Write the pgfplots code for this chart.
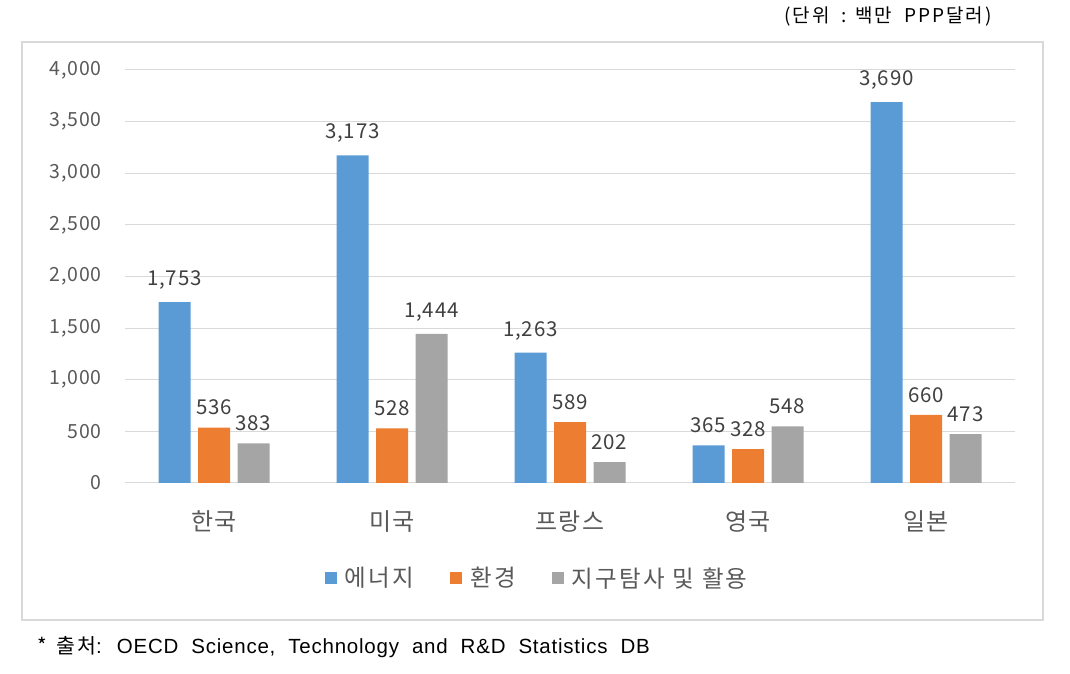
\documentclass[border=0pt]{standalone}
\usepackage{fontspec}
\setmainfont{Noto Sans CJK KR}
\newfontfamily\latinfont[LetterSpace=3.8,WordSpace=2]{Liberation Sans}
\newfontfamily\krsp[LetterSpace=10]{Noto Sans CJK KR}
\newfontfamily\krnum[LetterSpace=4]{Noto Sans CJK KR}
\newfontfamily\krcat[LetterSpace=5]{Noto Sans CJK KR}
\usepackage{pgfplots}
\pgfplotsset{compat=1.18}
\definecolor{cblue}{HTML}{5B9BD5}
\definecolor{corange}{HTML}{ED7D31}
\definecolor{cgray}{HTML}{A5A5A5}
\definecolor{gridc}{HTML}{D9D9D9}
\definecolor{txt}{HTML}{595959}
\definecolor{lbl}{HTML}{404040}
\begin{document}
\begin{tikzpicture}[x=1pt,y=1pt]
\path[use as bounding box] (0,0) rectangle (1070,674);
\draw[gridc,line width=1.5pt] (22,54) rectangle (1043,632);
\node[anchor=east,font=\krsp\fontsize{19}{22}\selectfont] at (995,657) {(단위 \ : 백만 \ PPP달러)};
\node[anchor=west,font=\fontsize{20.5}{24}\selectfont] at (34,27) {* \ {\krsp 출처}{\latinfont: OECD Science, Technology and R\&D Statistics DB}};
\begin{axis}[
  at={(125pt,191pt)}, anchor=south west,
  scale only axis, width=890pt, height=413pt,
  xmin=-0.5, xmax=4.5, ymin=0, ymax=4000,
  ybar=7.5pt, bar width=32pt,
  axis line style={draw=none},
  major tick length=0pt,
  ytick={0,500,...,4000},
  ymajorgrids, grid style={gridc, line width=1pt},
  xtick=data,
  xticklabels={한국,미국,프랑스,영국,일본},
  xticklabel style={font=\krcat\fontsize{24}{28}\selectfont, text=txt, yshift=-24pt},
  yticklabel style={font=\krnum\fontsize{19.5}{22}\selectfont, text=txt, xshift=-20pt},
  /pgf/number format/.cd, 1000 sep={,}, assume math mode=true,
  /pgfplots/.cd,
  nodes near coords,
  every node near coord/.append style={font=\krnum\fontsize{20.5}{24}\selectfont, text=lbl, yshift=9pt},
  legend style={at={(0.463,-0.23)}, anchor=center, draw=none, fill=none,
    font=\krsp\fontsize{23.5}{27}\selectfont, text=txt, legend columns=-1,
    /tikz/every odd column/.append style={column sep=6pt},
    /tikz/every even column/.append style={column sep=34pt}},
  legend image code/.code={\fill[#1] (0pt,-6pt) rectangle (12pt,6pt);},
]
\addplot[fill=cblue, draw=none] coordinates {(0,1753) (1,3173) (2,1263) (3,365) (4,3690)};
\addplot[fill=corange, draw=none] coordinates {(0,536) (1,528) (2,589) (3,328) (4,660)};
\addplot[fill=cgray, draw=none] coordinates {(0,383) (1,1444) (2,202) (3,548) (4,473)};
\legend{에너지,환경,지구탐사 및 활용}
\end{axis}
\end{tikzpicture}
\end{document}
